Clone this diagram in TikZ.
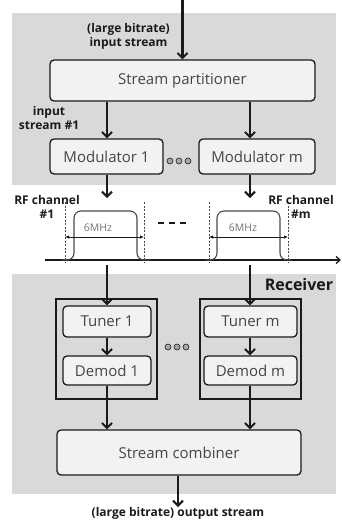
\documentclass[tikz,border=0pt]{standalone}
\usepackage{fontspec}
\setmainfont{Open Sans}
\usetikzlibrary{arrows.meta}
\definecolor{bggray}{HTML}{D9D9D9}
\definecolor{boxfill}{HTML}{F2F2F2}
\definecolor{boxtext}{HTML}{454545}
\definecolor{dark}{HTML}{1A1A1A}
\tikzset{
  stage/.style={draw=dark, line width=1.3pt, fill=boxfill, rounded corners=4pt, text=boxtext, font=\fontsize{15}{17}\selectfont, inner sep=0pt},
  group/.style={draw=dark, line width=1.3pt, inner sep=0pt},
  lbl/.style={font=\bfseries\fontsize{12}{14}\selectfont, text=dark, align=center, inner sep=0pt},
  arr/.style={draw=dark, line width=2.2pt, -{Straight Barb[length=5pt,width=10pt,line width=2pt]}},
  dotc/.style={circle, draw=dark, fill=gray!70, line width=0.6pt, minimum size=6pt, inner sep=0pt},
  spec/.style={draw=dark!80, line width=1.1pt, rounded corners=7pt},
  chan/.style={draw=dark!80, line width=0.6pt, dash pattern=on 2pt off 1.5pt},
  bw/.style={draw=dark, line width=0.8pt, {Latex[length=4pt,width=3.5pt]}-{Latex[length=4pt,width=3.5pt]}},
  mhz/.style={font=\fontsize{10.5}{12}\selectfont, text=gray!90!black, inner sep=0pt}
}
\begin{document}
\begin{tikzpicture}[x=1pt,y=-1pt]
\useasboundingbox (0,0) rectangle (341,520);
% backgrounds
\fill[bggray] (12,13) rectangle (336,185);
\fill[bggray] (12,274) rectangle (336,494);

% transmitter
\node[stage, minimum width=265pt, minimum height=41pt] (sp) at (182.5,80.5) {Stream partitioner};
\node[stage, minimum width=113pt, minimum height=35pt] (mod1) at (106.5,156.5) {Modulator 1};
\node[stage, minimum width=116pt, minimum height=35pt] (modm) at (257,156.5) {Modulator m};
\node[dotc] (d1) at (170,161) {};
\node[dotc] (d2) at (179,161) {};
\node[dotc] (d3) at (188,161) {};

\coordinate (in) at (182.5,0);
\coordinate (c1) at (107,0);
\coordinate (c2) at (250,0);
\coordinate (s1) at (107,198);
\coordinate (s2) at (250,198);
\coordinate (r1) at (107,265);
\coordinate (r2) at (250,265);

\node[lbl] (inlbl) at (128.5,36.5) {(large bitrate)\\input stream};
\node[lbl] (is1) at (49,118) {input\\stream \#1};

\draw[arr] (in) -- (sp.north);
\draw[arr] (sp.south -| c1) -- (mod1.north -| c1);
\draw[arr] (sp.south -| c2) -- (modm.north -| c2);
\draw[arr] (mod1.south -| c1) -- (s1);
\draw[arr] (modm.south -| c2) -- (s2);

% RF spectrum
\coordinate (b0) at (45,260);
\coordinate (b1) at (341,260);
\draw[draw=dark, line width=1.3pt, -{Straight Barb[length=4pt,width=7pt]}] (b0) -- (b1);
\draw[spec] (62,260) -- (74,260) -- (74,211) -- (137,211) -- (137,260) -- (150,260);
\draw[spec] (206,260) -- (217,260) -- (217,211) -- (280,211) -- (280,260) -- (291,260);
\draw[chan] (65,202) -- (65,262);
\draw[chan] (144,202) -- (144,262);
\draw[chan] (209,202) -- (209,262);
\draw[chan] (288,202) -- (288,262);
\coordinate (m1a) at (65,237); \coordinate (m1b) at (144,237);
\coordinate (m2a) at (209,237); \coordinate (m2b) at (288,237);
\draw[bw] (m1a) -- (m1b);
\draw[bw] (m2a) -- (m2b);
\node[mhz] (f1) at (98,228) {6MHz};
\node[mhz] (f2) at (243,228) {6MHz};
\draw[draw=dark, line width=2.6pt, dash pattern=on 6pt off 5pt] (158,223) -- (190,223);
\node[lbl] (rf1) at (47,207) {RF channel\\\#1};
\node[lbl] (rfm) at (301,207) {RF channel\\\#m};

% receiver
\node[font=\bfseries\fontsize{16}{18}\selectfont, text=dark, inner sep=0pt] (rx) at (299,284) {Receiver};
\node[group, minimum width=101pt, minimum height=100pt] (g1) at (106.5,349) {};
\node[group, minimum width=101pt, minimum height=100pt] (gm) at (250.5,349) {};
\node[stage, minimum width=88pt, minimum height=31pt] (t1) at (107,321.5) {Tuner 1};
\node[stage, minimum width=88pt, minimum height=29pt] (dm1) at (107,370.5) {Demod 1};
\node[stage, minimum width=93pt, minimum height=31pt] (tm) at (250.5,321.5) {Tuner m};
\node[stage, minimum width=93pt, minimum height=29pt] (dmm) at (250.5,370.5) {Demod m};
\node[dotc] (e1) at (168,347) {};
\node[dotc] (e2) at (177,347) {};
\node[dotc] (e3) at (186,347) {};
\node[stage, minimum width=244pt, minimum height=45pt] (comb) at (179,452.5) {Stream combiner};
\node[lbl, anchor=north] (out) at (178,507) {(large bitrate) output stream};

\draw[arr] (r1) -- (t1.north -| r1);
\draw[arr] (r2) -- (tm.north -| r2);
\draw[arr] (t1.south -| r1) -- (dm1.north -| r1);
\draw[arr] (tm.south -| r2) -- (dmm.north -| r2);
\draw[arr] (dm1.south -| r1) -- (comb.north -| r1);
\draw[arr] (dmm.south -| r2) -- (comb.north -| r2);
\draw[arr] (comb.south -| out) -- (out.north);
\end{tikzpicture}
\end{document}
